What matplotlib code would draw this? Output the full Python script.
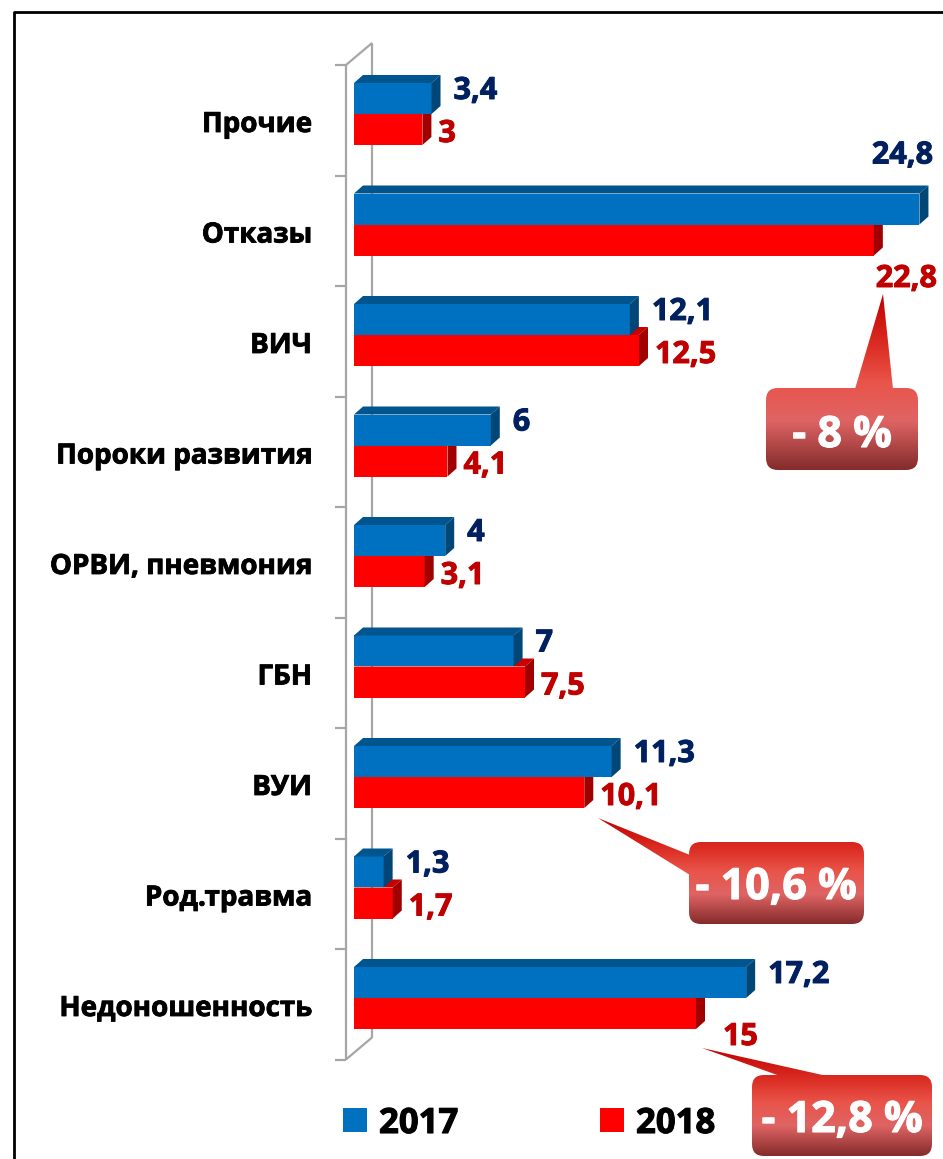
import matplotlib

matplotlib.use("Agg")
import matplotlib.patheffects as pe
import matplotlib.pyplot as plt
import numpy as np
from matplotlib.colors import LinearSegmentedColormap
from matplotlib.patches import FancyBboxPatch, Polygon, Rectangle

plt.rcParams["font.family"] = ["Open Sans", "DejaVu Sans"]

# data
categories = ["Прочие", "Отказы", "ВИЧ", "Пороки развития", "ОРВИ, пневмония",
              "ГБН", "ВУИ", "Род.травма", "Недоношенность"]
values_2017 = [3.4, 24.8, 12.1, 6, 4, 7, 11.3, 1.3, 17.2]
values_2018 = [3, 22.8, 12.5, 4.1, 3.1, 7.5, 10.1, 1.7, 15]
labels_2017 = ["3,4", "24,8", "12,1", "6", "4", "7", "11,3", "1,3", "17,2"]
labels_2018 = ["3", "22,8", "12,5", "4,1", "3,1", "7,5", "10,1", "1,7", "15"]
series_names = ["2017", "2018"]
callouts = ["- 8 %", "- 10,6 %", "- 12,8 %"]

W, H = 943, 1159
PX_X = 22.8      # pixels per unit of value
PX_Y = 110.5     # pixels per category
X0_PX = 354      # pixel x of value 0
Y0_PX = 114      # pixel y of first category centre
BAR_H = 31 / PX_Y
DX = 9 / PX_X    # 3d depth
DY = 8 / PX_Y

BLUE, BLUE_TOP, BLUE_SIDE = "#0070C0", "#00558F", "#004677"
RED, RED_TOP, RED_SIDE = "#FF0000", "#C80000", "#A00000"
NAVY, DARKRED = "#002060", "#C00000"
WALL = "#A6A6A6"

fig = plt.figure(figsize=(W / 100, H / 100), dpi=100)
ax = fig.add_axes([0, 0, 1, 1])
ax.set_xlim(-X0_PX / PX_X, (W - X0_PX) / PX_X)
ax.set_ylim((H - Y0_PX) / PX_Y, -Y0_PX / PX_Y)
ax.axis("off")

# pixel overlay for frame, legend and callouts
ov = fig.add_axes([0, 0, 1, 1], facecolor="none")
ov.set_xlim(0, W)
ov.set_ylim(H, 0)
ov.axis("off")

n = len(categories)
pos = np.arange(n)


def px(xp):
    return (xp - X0_PX) / PX_X


def py(yp):
    return (yp - Y0_PX) / PX_Y


def heavy(color, w=0.7):
    return [pe.withStroke(linewidth=w, foreground=color)]


# 3d wall: front axis, back axis, ticks
front_x, back_x, tick_x = px(346), px(372), px(335)
top_front, bot_front = py(65), py(65 + PX_Y * n)
shift_y = 22 / PX_Y
wall_kw = dict(color=WALL, lw=1.6, solid_capstyle="butt", zorder=1)
ax.plot([front_x, front_x], [top_front, bot_front], **wall_kw)
ax.plot([back_x, back_x], [top_front - shift_y, bot_front - shift_y], **wall_kw)
ax.plot([front_x, back_x], [top_front, top_front - shift_y], **wall_kw)
ax.plot([front_x, back_x], [bot_front, bot_front - shift_y], **wall_kw)
for k in range(n + 1):
    yk = top_front + k
    ax.plot([tick_x, front_x], [yk, yk], **wall_kw)


def bar3d(yc, v, front, top, side, z):
    ax.barh(yc, v, height=BAR_H, left=0, color=front, edgecolor="none", zorder=z)
    yt, yb = yc - BAR_H / 2, yc + BAR_H / 2
    ax.add_patch(Polygon([(0, yt), (DX, yt - DY), (v + DX, yt - DY), (v, yt)],
                         closed=True, fc=top, ec="none", zorder=z))
    ax.add_patch(Polygon([(v, yt), (v + DX, yt - DY), (v + DX, yb - DY), (v, yb)],
                         closed=True, fc=side, ec="none", zorder=z))


for i in range(n):
    bar3d(pos[i] + BAR_H / 2, values_2018[i], RED, RED_TOP, RED_SIDE, 2)
    bar3d(pos[i] - BAR_H / 2, values_2017[i], BLUE, BLUE_TOP, BLUE_SIDE, 3)

# category labels
for i, name in enumerate(categories):
    ax.text(px(312), pos[i] + 18 / PX_Y, name, ha="right", va="baseline",
            fontsize=20, fontweight="bold", color="black", path_effects=heavy("black", 0.6))

# value labels
lab_kw = dict(fontsize=22, fontweight="bold", va="baseline", zorder=5)
for i in range(n):
    v1, v2 = values_2017[i], values_2018[i]
    if i == 1:
        ax.text(px(933), pos[i] - 61 / PX_Y, labels_2017[i], ha="right", color=NAVY,
                path_effects=heavy(NAVY), **lab_kw)
        ax.text(px(937), pos[i] + 62.5 / PX_Y, labels_2018[i], ha="right", color=DARKRED,
                path_effects=heavy(DARKRED), **lab_kw)
        continue
    ax.text(v1 + DX + 13 / PX_X, pos[i] - 15 / PX_Y, labels_2017[i], ha="left", color=NAVY,
            path_effects=heavy(NAVY), **lab_kw)
    if i == n - 1:
        ax.text(v2 + 27 / PX_X, pos[i] + 47 / PX_Y, labels_2018[i], ha="left", color=DARKRED,
                path_effects=heavy(DARKRED), **lab_kw)
    else:
        ax.text(v2 + DX + 7 / PX_X, pos[i] + 28 / PX_Y, labels_2018[i], ha="left", color=DARKRED,
                path_effects=heavy(DARKRED), **lab_kw)

# frame
ov.plot([14, 14, W + 5], [H + 5, 12, 12], color="black", lw=2, zorder=1)

# legend
for (x_sq, color, name) in [(343, BLUE, series_names[0]), (600, RED, series_names[1])]:
    ov.add_patch(Rectangle((x_sq, 1108), 24, 24, fc=color, ec="none"))
    ov.text(x_sq + 36, 1133, name, fontsize=25, fontweight="bold", va="baseline", ha="left",
            path_effects=heavy("black", 0.8))

# callouts with gradient fill
grad_cmap = LinearSegmentedColormap.from_list(
    "callout",
    [(0.0, "#C00000"), (0.3, "#DC2F25"), (0.5, "#E9544A"), (0.72, "#DF6464"), (1.0, "#842B2B")])
grad = np.linspace(0, 1, 256).reshape(-1, 1)


def callout(box, tri, text, tx, ty):
    x0, y0, x1, y1 = box
    xs = [x0, x1] + [p[0] for p in tri]
    ys = [y0, y1] + [p[1] for p in tri]
    ext = [min(xs), max(xs), max(ys), min(ys)]
    rbox = FancyBboxPatch((x0, y0), x1 - x0, y1 - y0, boxstyle="round,pad=0,rounding_size=12",
                          fc="none", ec="none")
    tpoly = Polygon(tri, closed=True, fc="none", ec="none")
    for patch in (rbox, tpoly):
        ov.add_patch(patch)
        im = ov.imshow(grad, cmap=grad_cmap, extent=ext, aspect="auto", zorder=4,
                       interpolation="bilinear")
        im.set_clip_path(patch)
    ov.text(tx, ty, text, color="white", fontsize=31, fontweight="bold",
            ha="center", va="baseline", zorder=6, path_effects=heavy("white", 0.8))


callout((766, 388, 918, 470), [(855, 389), (893, 389), (883, 294)], callouts[0], 842, 447)
callout((689, 842, 864, 924), [(690, 855), (690, 875), (598, 818)], callouts[1], 776, 899)
callout((752, 1075, 932, 1156), [(780, 1076), (827, 1076), (702, 1048)], callouts[2], 842, 1132)

ov.set_xlim(0, W)
ov.set_ylim(H, 0)
fig.savefig("out.png", dpi=100)
